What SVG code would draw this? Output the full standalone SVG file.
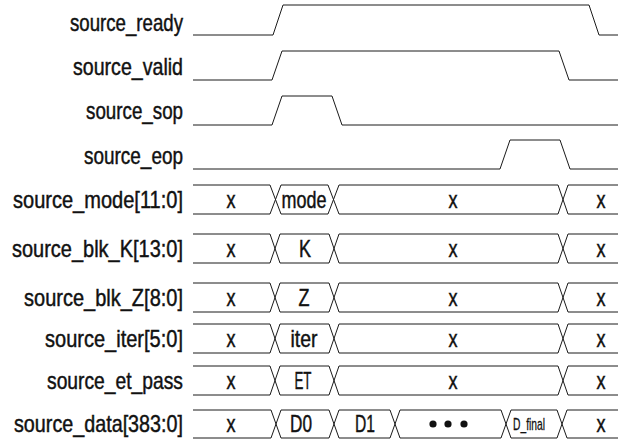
<svg xmlns="http://www.w3.org/2000/svg" width="618" height="440" viewBox="0 0 618 440">
  <style>
    .wave { fill: none; stroke: #1a1a1a; stroke-width: 1; }
    .lbl { font-family: "Liberation Sans", Arial, sans-serif; font-size: 24px; fill: #111; stroke: #111; stroke-width: 0.45; text-anchor: end; }
    .val { font-family: "Liberation Sans", Arial, sans-serif; font-size: 24px; fill: #111; stroke: #111; stroke-width: 0.45; text-anchor: middle; }
    .small { font-size: 17px; stroke-width: 0.3; }
    .dot { fill: #111; }
  </style>
  <rect width="618" height="440" fill="#ffffff"/>

  <!-- single-bit control signals -->
  <g id="source_ready">
    <text class="lbl" x="183" y="31" textLength="113" lengthAdjust="spacingAndGlyphs">source_ready</text>
    <path class="wave" d="M193,35 H273 L283,5 H589 L599,35 H618"/>
  </g>
  <g id="source_valid">
    <text class="lbl" x="183" y="75" textLength="110" lengthAdjust="spacingAndGlyphs">source_valid</text>
    <path class="wave" d="M193,80 H272 L282,51 H559 L569,80 H618"/>
  </g>
  <g id="source_sop">
    <text class="lbl" x="183" y="119" textLength="97" lengthAdjust="spacingAndGlyphs">source_sop</text>
    <path class="wave" d="M193,125 H272 L282,96 H332 L342,125 H618"/>
  </g>
  <g id="source_eop">
    <text class="lbl" x="183" y="164" textLength="99" lengthAdjust="spacingAndGlyphs">source_eop</text>
    <path class="wave" d="M193,169 H500 L510,140 H560 L570,169 H618"/>
  </g>

  <!-- multi-bit buses -->
  <g id="source_mode">
    <text class="lbl" x="183" y="208" textLength="170" lengthAdjust="spacingAndGlyphs">source_mode[11:0]</text>
    <path class="wave" d="M193,185 H270 L281,214 H328 L339,185 H558 L568,214 H618"/>
    <path class="wave" d="M193,214 H270 L281,185 H328 L339,214 H558 L568,185 H618"/>
    <text class="val" x="231" y="208" textLength="9" lengthAdjust="spacingAndGlyphs">x</text>
    <text class="val" x="304" y="208" textLength="45" lengthAdjust="spacingAndGlyphs">mode</text>
    <text class="val" x="453" y="208" textLength="9" lengthAdjust="spacingAndGlyphs">x</text>
    <text class="val" x="601" y="208" textLength="9" lengthAdjust="spacingAndGlyphs">x</text>
  </g>
  <g id="source_blk_K">
    <text class="lbl" x="183" y="257" textLength="171" lengthAdjust="spacingAndGlyphs">source_blk_K[13:0]</text>
    <path class="wave" d="M193,234 H270 L280,263 H329 L339,234 H558 L568,263 H618"/>
    <path class="wave" d="M193,263 H270 L280,234 H329 L339,263 H558 L568,234 H618"/>
    <text class="val" x="231" y="257" textLength="9" lengthAdjust="spacingAndGlyphs">x</text>
    <text class="val" x="305" y="257" textLength="12" lengthAdjust="spacingAndGlyphs">K</text>
    <text class="val" x="453" y="257" textLength="9" lengthAdjust="spacingAndGlyphs">x</text>
    <text class="val" x="601" y="257" textLength="9" lengthAdjust="spacingAndGlyphs">x</text>
  </g>
  <g id="source_blk_Z">
    <text class="lbl" x="183" y="306" textLength="159" lengthAdjust="spacingAndGlyphs">source_blk_Z[8:0]</text>
    <path class="wave" d="M193,283 H270 L280,312 H329 L339,283 H558 L568,312 H618"/>
    <path class="wave" d="M193,312 H270 L280,283 H329 L339,312 H558 L568,283 H618"/>
    <text class="val" x="231" y="306" textLength="9" lengthAdjust="spacingAndGlyphs">x</text>
    <text class="val" x="304" y="306" textLength="11" lengthAdjust="spacingAndGlyphs">Z</text>
    <text class="val" x="453" y="306" textLength="9" lengthAdjust="spacingAndGlyphs">x</text>
    <text class="val" x="601" y="306" textLength="9" lengthAdjust="spacingAndGlyphs">x</text>
  </g>
  <g id="source_iter">
    <text class="lbl" x="183" y="347" textLength="138" lengthAdjust="spacingAndGlyphs">source_iter[5:0]</text>
    <path class="wave" d="M193,324 H270 L280,353 H329 L339,324 H558 L568,353 H618"/>
    <path class="wave" d="M193,353 H270 L280,324 H329 L339,353 H558 L568,324 H618"/>
    <text class="val" x="231" y="347" textLength="9" lengthAdjust="spacingAndGlyphs">x</text>
    <text class="val" x="304" y="347" textLength="27" lengthAdjust="spacingAndGlyphs">iter</text>
    <text class="val" x="453" y="347" textLength="9" lengthAdjust="spacingAndGlyphs">x</text>
    <text class="val" x="601" y="347" textLength="9" lengthAdjust="spacingAndGlyphs">x</text>
  </g>
  <g id="source_et_pass">
    <text class="lbl" x="183" y="389" textLength="136" lengthAdjust="spacingAndGlyphs">source_et_pass</text>
    <path class="wave" d="M193,366 H270 L280,395 H329 L339,366 H558 L568,395 H618"/>
    <path class="wave" d="M193,395 H270 L280,366 H329 L339,395 H558 L568,366 H618"/>
    <text class="val" x="231" y="389" textLength="9" lengthAdjust="spacingAndGlyphs">x</text>
    <text class="val" x="303" y="389" textLength="17" lengthAdjust="spacingAndGlyphs">ET</text>
    <text class="val" x="453" y="389" textLength="9" lengthAdjust="spacingAndGlyphs">x</text>
    <text class="val" x="601" y="389" textLength="9" lengthAdjust="spacingAndGlyphs">x</text>
  </g>
  <g id="source_data">
    <text class="lbl" x="183" y="432" textLength="169" lengthAdjust="spacingAndGlyphs">source_data[383:0]</text>
    <path class="wave" d="M193,410 H271 L281,438 H329 L339,410 H390 L400,438 H501 L511,410 H557 L567,438 H618"/>
    <path class="wave" d="M193,438 H271 L281,410 H329 L339,438 H390 L400,410 H501 L511,438 H557 L567,410 H618"/>
    <text class="val" x="231" y="432" textLength="9" lengthAdjust="spacingAndGlyphs">x</text>
    <text class="val" x="301" y="432" textLength="22" lengthAdjust="spacingAndGlyphs">D0</text>
    <text class="val" x="365" y="432" textLength="20" lengthAdjust="spacingAndGlyphs">D1</text>
    <circle class="dot" cx="433" cy="424" r="3.6"/>
    <circle class="dot" cx="448" cy="424" r="3.6"/>
    <circle class="dot" cx="464" cy="424" r="3.6"/>
    <text class="val small" x="529" y="430" textLength="32" lengthAdjust="spacingAndGlyphs">D_final</text>
    <text class="val" x="601" y="432" textLength="9" lengthAdjust="spacingAndGlyphs">x</text>
  </g>
</svg>
